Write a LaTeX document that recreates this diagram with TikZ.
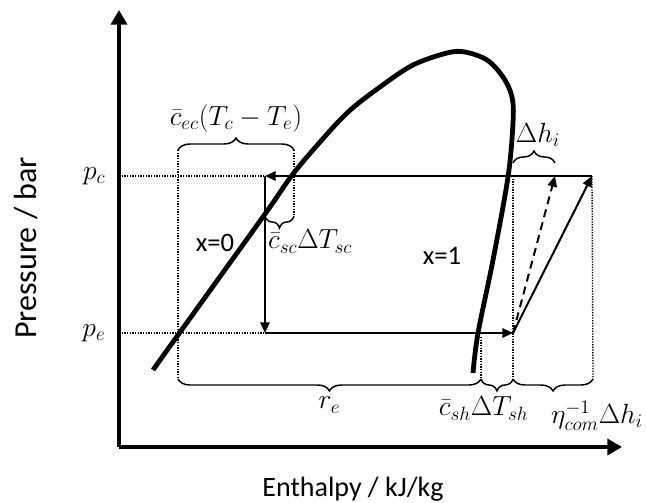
\documentclass[tikz,border=0pt]{standalone}
\usepackage{fontspec}
\setmainfont{Carlito}
\usepackage{tikz}
\usetikzlibrary{arrows.meta, positioning, decorations.pathreplacing}
\tikzset{
  axis/.style={line width=3pt, -{Triangle[length=11pt, width=12pt]}},
  satcurve/.style={line width=3.6pt},
  cycleline/.style={line width=1.5pt, -{Triangle[length=8pt, width=7pt]}},
  guide/.style={densely dotted, line width=1pt},
  bracket/.style={decorate, decoration={brace, amplitude=9pt}, line width=1.1pt},
  every node/.style={font=\fontsize{20}{24}\selectfont, inner sep=1pt},
}
\begin{document}
\begin{tikzpicture}[x=0.75pt, y=-0.75pt]
  \useasboundingbox (0,0) rectangle (646,503);

  % axes
  \coordinate (origin) at (119,447);
  \coordinate (ytop) at (119,10);
  \coordinate (xend) at (622,447);
  \draw[axis] (origin) -- (ytop);
  \draw[axis] (origin) -- (xend);
  \node[rotate=90, font=\fontsize{24}{28}\selectfont] (ylabel) at (26,248) {Pressure / bar};
  \node[font=\fontsize{21}{25}\selectfont] (xlabel) at (353,489) {Enthalpy / kJ/kg};

  % saturation dome
  \draw[satcurve] plot[smooth, tension=0.55] coordinates {
    (153,370) (178,335) (265,214) (290,178) (313,150) (347,113)
    (380,87) (413,65) (447,53) (465,52) (487,60) (503,77)
    (512,97) (513,123) (508,177) (493,260) (478,333) (473,373)};
  \node (xzero) at (215,243) {x=0};
  \node (xone) at (442,256) {x=1};

  % cycle points
  \coordinate (cond) at (592,176);
  \coordinate (valve) at (265,176);
  \coordinate (evap) at (265,333);
  \coordinate (suct) at (513,333);
  \coordinate (isen) at (555,176);
  \coordinate (pcaxis) at (119,176);
  \coordinate (peaxis) at (119,333);
  \node[left=9pt of pcaxis] (pc) {$p_c$};
  \node[left=9pt of peaxis] (pe) {$p_e$};

  \draw[guide] (pcaxis) -- (valve);
  \draw[guide] (peaxis) -- (evap);
  \draw[cycleline] (cond) -- (valve);
  \draw[cycleline] (valve) -- (evap);
  \draw[cycleline] (evap) -- (suct);
  \draw[cycleline] (suct) -- (cond);
  \draw[cycleline, dash pattern=on 6pt off 4pt] (suct) -- (isen);

  % helper lines
  \coordinate (ecleft) at (178,150);
  \coordinate (ecright) at (294,150);
  \coordinate (scleft) at (265,216);
  \coordinate (scright) at (294,216);
  \coordinate (reL) at (178,379);
  \coordinate (reR) at (481,379);
  \coordinate (shtop) at (481,337);
  \coordinate (suctbot) at (513,379);
  \coordinate (condbot) at (593,379);
  \coordinate (dhL) at (513,163);
  \coordinate (dhR) at (555,163);
  \draw[guide] (ecleft) -- (reL);
  \draw[guide] (ecright) -- (scright);
  \draw[guide] (shtop) -- (reR);
  \draw[guide] (suct |- cond) -- (suctbot);
  \draw[guide] (cond) -- (condbot);

  % brackets
  \draw[bracket] (ecleft) -- (ecright)
    node[midway, above=12pt] (ec) {$\bar{c}_{ec}(T_c-T_e)$};
  \draw[bracket] (scright) -- (scleft)
    node[midway, below=9pt, xshift=23pt] (sc) {$\bar{c}_{sc}\Delta T_{sc}$};
  \draw[bracket] (dhL) -- (dhR)
    node[midway, above=11pt, xshift=3pt] (dh) {$\Delta h_i$};
  \draw[bracket] (reR) -- (reL)
    node[midway, below=12pt] (re) {$r_e$};
  \draw[bracket] (suctbot) -- (reR)
    node[midway, below=12pt, xshift=-10pt] (sh) {$\bar{c}_{sh}\Delta T_{sh}$};
  \draw[bracket] (condbot) -- (suctbot)
    node[midway, below=15pt, xshift=33pt] (com) {$\eta_{com}^{-1}\Delta h_i$};
\end{tikzpicture}
\end{document}
